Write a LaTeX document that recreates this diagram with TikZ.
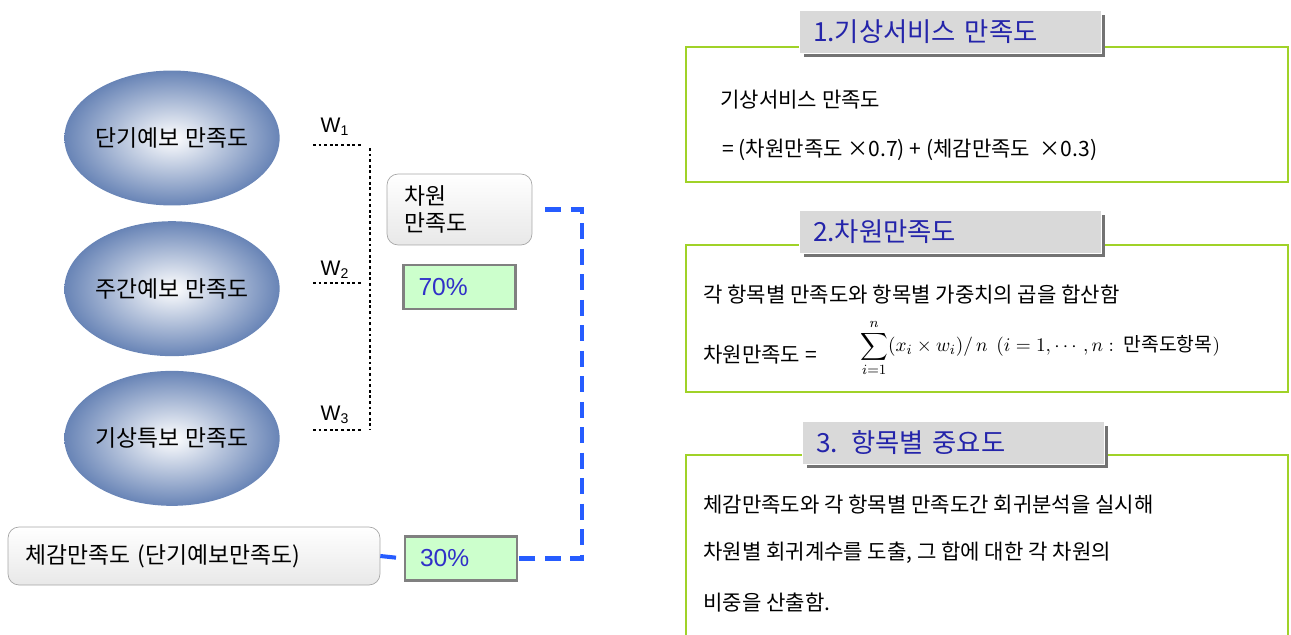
\documentclass[tikz,border=0pt]{standalone}
\usepackage{amsmath}
\usepackage[no-math]{fontspec}
\setmainfont{Noto Sans CJK KR}
\newfontfamily\latinfont{Liberation Sans}
\usetikzlibrary{positioning}
\usetikzlibrary{shapes.geometric}
\usetikzlibrary{shadows}

\definecolor{ellblue}{RGB}{104,132,182}
\definecolor{pctgreen}{RGB}{204,255,204}
\definecolor{pctblue}{RGB}{48,48,200}
\definecolor{linkblue}{RGB}{38,92,255}
\definecolor{panelgreen}{RGB}{160,210,40}
\definecolor{titlegray}{RGB}{217,217,217}
\definecolor{titleblue}{RGB}{36,36,170}

\begin{document}
\begin{tikzpicture}[
    x = 0.02cm, y = -0.02cm,
    item/.style = {
        ellipse, inner color = white, outer color = ellblue,
        minimum width = 4.3cm, minimum height = 2.7cm, inner sep = 0pt,
        font = \fontsize{13}{15}\selectfont
    },
    softbox/.style = {
        rectangle, rounded corners = 0.22cm, draw = gray!70, thin,
        top color = white, bottom color = gray!18,
        align = left, inner xsep = 0.34cm,
        font = \fontsize{13}{15.3}\selectfont
    },
    pct/.style = {
        rectangle, draw = gray, line width = 1.2pt, fill = pctgreen,
        minimum width = 2.24cm, minimum height = 0.88cm,
        text width = 1.64cm, inner xsep = 0.3cm, align = left,
        text = pctblue, font = \latinfont\fontsize{14}{16}\selectfont
    },
    wlabel/.style = {font = \latinfont\fontsize{12}{14}\selectfont},
    wline/.style = {black, dash pattern = on 1.6pt off 1.6pt, line width = 0.6pt},
    link/.style = {linkblue, line width = 2.3pt, dash pattern = on 9pt off 5.5pt},
    panel/.style = {
        rectangle, draw = panelgreen, line width = 1.1pt,
        minimum width = 12.04cm
    },
    heading/.style = {
        rectangle, fill = titlegray, draw = white, thin,
        minimum width = 6.04cm, minimum height = 0.86cm,
        text width = 5.48cm, inner xsep = 0.28cm, align = left,
        text = titleblue, font = \fontsize{15}{17}\selectfont,
        drop shadow = {shadow xshift = 0.09cm, shadow yshift = -0.09cm,
            fill = gray!90!black, opacity = 1}
    },
    body/.style = {
        anchor = west, inner sep = 0pt, text = black,
        font = \fontsize{12}{14}\selectfont
    }
  ]
  \useasboundingbox (0,0) rectangle (1291,635);

  \begin{scope}[
        node distance = 0cm
    ]
    \node[item] (dangi) at (172,138) {단기예보 만족도};
    \node[item, below = 0.3cm of dangi] (jugan) {주간예보 만족도};
    \node[item, below = 0.28cm of jugan] (teukbo) {기상특보 만족도};

    \node[wlabel] (w1) at (335,127) {W\textsubscript{1}};
    \node[wlabel] (w2) at (335,270) {W\textsubscript{2}};
    \node[wlabel] (w3) at (335,415) {W\textsubscript{3}};

    \coordinate (w1a) at (313,145);
    \coordinate (w1b) at (362,145);
    \coordinate (w2a) at (313,283);
    \coordinate (w2b) at (362,283);
    \coordinate (w3a) at (313,430);
    \coordinate (w3b) at (362,430);
    \coordinate (vtop) at (370,148);
    \coordinate (vbot) at (370,430);

    \draw[wline] (w1a) -- (w1b);
    \draw[wline] (w2a) -- (w2b);
    \draw[wline] (w3a) -- (w3b);
    \draw[wline] (vtop) -- (vbot);

    \node[
        softbox,
        minimum width = 2.9cm, minimum height = 1.42cm,
        text width = 2.22cm
    ] (chawon) at (459.5,209.5) {차원\\만족도};

    \node[pct, below = 0.38cm of chawon] (p70) {70\%};
    \node[pct] (p30) at (461,558.5) {30\%};

    \node[
        softbox,
        minimum width = 7.44cm, minimum height = 1.16cm,
        text width = 6.76cm
    ] (chegam) at (194,556) {체감만족도 (단기예보만족도)};

    \draw[link, shorten <= 0.26cm] (chawon.east) -- ++(50,0) |- (p30.east);
    \draw[link] (chegam.east) -- (p30.west);
  \end{scope}

  \begin{scope}
    \node[panel, minimum height = 2.7cm] (pan1) at (987,114.5) {};
    \node[panel, minimum height = 2.94cm] (pan2) at (987,318.5) {};
    \node[panel, minimum height = 8.4cm] (pan3) at (987,665) {};

    \node[heading] (head1) at (950,31.5) {1.기상서비스 만족도};
    \node[heading] (head2) at (950,231.5) {2.차원만족도};
    \node[heading] (head3) at (953,442.5) {3. 항목별 중요도};

    \node[body] (t1a) at (720,100) {기상서비스 만족도};
    \node[body] (t1b) at (722,150) {= (차원만족도 ×0.7) + (체감만족도\ \ ×0.3)};

    \node[body] (t2a) at (703,295) {각 항목별 만족도와 항목별 가중치의 곱을 합산함};
    \node[body] (t2b) at (703,355) {차원만족도 =};
    \node[body, font = \fontsize{11}{13}\selectfont] (t2c) at (860,348)
        {$\displaystyle\sum_{i=1}^{n}(x_i\times w_i)/\,n\ \ (i=1,\cdots,n:\ \text{만족도항목})$};

    \node[body] (t3a) at (703,505) {체감만족도와 각 항목별 만족도간 회귀분석을 실시해};
    \node[body] (t3b) at (703,553) {차원별 회귀계수를 도출, 그 합에 대한 각 차원의};
    \node[body] (t3c) at (703,603) {비중을 산출함.};
  \end{scope}
\end{tikzpicture}
\end{document}
